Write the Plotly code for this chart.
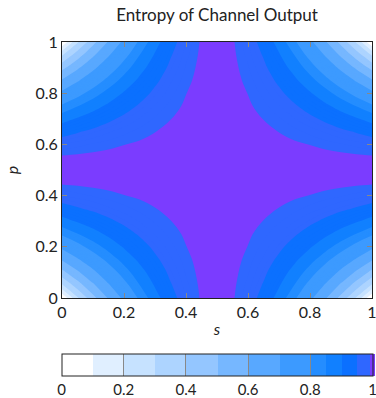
import plotly.graph_objects as go

s_vals = [0, 0.05, 0.1, 0.15, 0.2, 0.25, 0.3, 0.35, 0.4, 0.45, 0.5,
          0.55, 0.6, 0.65, 0.7, 0.75, 0.8, 0.85, 0.9, 0.95, 1]
p_vals = [0, 0.05, 0.1, 0.15, 0.2, 0.25, 0.3, 0.35, 0.4, 0.45, 0.5,
          0.55, 0.6, 0.65, 0.7, 0.75, 0.8, 0.85, 0.9, 0.95, 1]

R0 = [0, .2864, .4690, .6098, .7219, .8113, .8813, .9341, .9710, .9928, 1, .9928, .9710, .9341, .8813, .8113, .7219, .6098, .4690, .2864, 0]
R1 = [.2864, .4529, .5842, .6909, .7780, .8486, .9044, .9468, .9765, .9941, 1, .9941, .9765, .9468, .9044, .8486, .7780, .6909, .5842, .4529, .2864]
R2 = [.4690, .5842, .6801, .7602, .8267, .8813, .9248, .9580, .9815, .9954, 1, .9954, .9815, .9580, .9248, .8813, .8267, .7602, .6801, .5842, .4690]
R3 = [.6098, .6909, .7602, .8191, .8687, .9097, .9427, .9680, .9858, .9965, 1, .9965, .9858, .9680, .9427, .9097, .8687, .8191, .7602, .6909, .6098]
R4 = [.7219, .7780, .8267, .8687, .9044, .9341, .9580, .9765, .9896, .9974, 1, .9974, .9896, .9765, .9580, .9341, .9044, .8687, .8267, .7780, .7219]
R5 = [.8113, .8486, .8813, .9097, .9341, .9544, .9710, .9837, .9928, .9982, 1, .9982, .9928, .9837, .9710, .9544, .9341, .9097, .8813, .8486, .8113]
R6 = [.8813, .9044, .9248, .9427, .9580, .9710, .9815, .9896, .9954, .9988, 1, .9988, .9954, .9896, .9815, .9710, .9580, .9427, .9248, .9044, .8813]
R7 = [.9341, .9468, .9580, .9680, .9765, .9837, .9896, .9941, .9974, .9994, 1, .9994, .9974, .9941, .9896, .9837, .9765, .9680, .9580, .9468, .9341]
R8 = [.9710, .9765, .9815, .9858, .9896, .9928, .9954, .9974, .9988, .9997, 1, .9997, .9988, .9974, .9954, .9928, .9896, .9858, .9815, .9765, .9710]
R9 = [.9928, .9941, .9954, .9965, .9974, .9982, .9988, .9994, .9997, .9999, 1, .9999, .9997, .9994, .9988, .9982, .9974, .9965, .9954, .9941, .9928]
R10 = [1, 1, 1, 1, 1, 1, 1, 1, 1, 1, 1, 1, 1, 1, 1, 1, 1, 1, 1, 1, 1]

entropy = [R0, R1, R2, R3, R4, R5, R6, R7, R8, R9, R10,
           R9, R8, R7, R6, R5, R4, R3, R2, R1, R0]

levels = [0, 0.1, 0.2, 0.3, 0.4, 0.5, 0.6, 0.7, 0.8, 0.85, 0.9, 0.95, 0.99, 1]
level_colors = ["#ffffff", "#e0efff", "#c6e2ff", "#add4ff", "#94c6ff", "#76b7ff",
                "#58a8ff", "#3c9aff", "#248dff", "#1180ff", "#0b70ff", "#2f67ff", "#7b3cff"]

cbar_ticks = [0, 0.2, 0.4, 0.6, 0.8, 1]
cbar_ticktext = ["0", "0.2", "0.4", "0.6", "0.8", "1"]

colorscale = []
for i, c in enumerate(level_colors):
    colorscale.append([levels[i], c])
    colorscale.append([levels[i + 1], c])

FONT = "Lato"
TXT = "#222"

fig = go.Figure(go.Contour(
    x=s_vals, y=p_vals, z=entropy,
    zmin=0, zmax=1,
    autocontour=False,
    contours=dict(start=0, end=1, size=0.01, coloring="fill", showlines=False),
    line=dict(width=0, smoothing=1),
    colorscale=colorscale,
    hoverinfo="skip",
    colorbar=dict(
        orientation="h",
        x=0.5, xanchor="center",
        y=-0.219, yanchor="top",
        len=311, lenmode="pixels",
        thickness=22, thicknessmode="pixels",
        xpad=0, ypad=0,
        outlinewidth=1, outlinecolor=TXT,
        tickvals=cbar_ticks, ticktext=cbar_ticktext,
        ticks="inside", ticklen=22, tickcolor="#888", tickwidth=1,
        ticklabeloverflow="allow",
        tickfont=dict(family=FONT, size=15, color=TXT),
    ),
))

axis_common = dict(
    range=[0, 1],
    tickvals=[0, 0.2, 0.4, 0.6, 0.8, 1],
    ticktext=["0", "0.2", "0.4", "0.6", "0.8", "1"],
    ticks="inside", ticklen=5, tickcolor="#888", tickwidth=1,
    showline=True, linecolor=TXT, linewidth=1, mirror="ticks",
    showgrid=False, zeroline=False,
    ticklabeloverflow="allow",
    tickfont=dict(family=FONT, size=16, color=TXT),
)

fig.update_layout(
    width=376, height=398,
    margin=dict(l=62, r=4, t=42, b=100, autoexpand=False),
    paper_bgcolor="white", plot_bgcolor="white",
    title=dict(text="Entropy of Channel Output", x=0.5, xref="paper", xanchor="center",
               y=1 - 15 / 398, yanchor="middle",
               font=dict(family=FONT, size=17, color=TXT)),
    xaxis=dict(axis_common, title=dict(text="<i>s</i>", standoff=3,
                                      font=dict(family=FONT, size=16, color=TXT))),
    yaxis=dict(axis_common, title=dict(text="<i>p</i>", standoff=12,
                                      font=dict(family=FONT, size=16, color=TXT))),
)

fig.write_html("out.html")
